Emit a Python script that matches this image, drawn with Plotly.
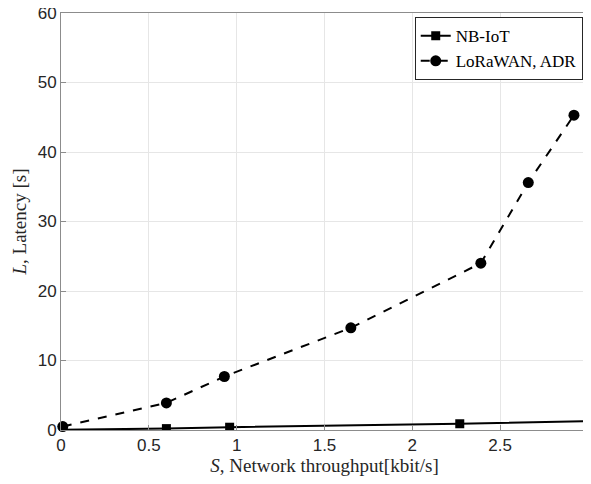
import plotly.graph_objects as go

nb_x = [0.01, 0.60, 0.96, 2.27, 3.25]
nb_y = [0.05, 0.2, 0.4, 0.9, 1.4]
lora_x = [0.01, 0.60, 0.93, 1.65, 2.39, 2.66, 2.92]
lora_y = [0.5, 3.9, 7.7, 14.7, 24.0, 35.6, 45.3]

x_ticks = [0, 0.5, 1, 1.5, 2, 2.5, 3]
x_tick_labels = ["0", "0.5", "1", "1.5", "2", "2.5", "3"]
y_ticks = [0, 10, 20, 30, 40, 50, 60]

serif = "Liberation Serif, DejaVu Serif, serif"
sans = "Liberation Sans, Arial, sans-serif"

fig = go.Figure()
fig.add_trace(go.Scatter(x=nb_x, y=nb_y, mode="lines+markers", name="NB-IoT",
                         line=dict(color="black", width=2),
                         marker=dict(symbol="square", size=9, color="black"),
                         cliponaxis=True))
fig.add_trace(go.Scatter(x=lora_x, y=lora_y, mode="lines+markers", name="LoRaWAN, ADR",
                         line=dict(color="black", width=2, dash="dash"),
                         marker=dict(symbol="circle", size=11, color="black"),
                         cliponaxis=False))

axis_common = dict(showgrid=True, gridcolor="#e6e6e6", gridwidth=1,
                   showline=True, linecolor="#8c8c8c", linewidth=1, mirror=True,
                   ticks="inside", ticklen=5, tickcolor="#8c8c8c", automargin=False,
                   ticklabeloverflow="allow",
                   zeroline=False, tickfont=dict(family=sans, size=17, color="#262626"))

fig.update_xaxes(range=[0, 3], tickvals=x_ticks, ticktext=x_tick_labels,
                 title=dict(text="<i>S</i>, Network throughput[kbit/s]",
                            font=dict(family=serif, size=19, color="#262626"), standoff=3),
                 **axis_common)
fig.update_yaxes(range=[0, 60], tickvals=y_ticks,
                 title=dict(text="<i>L</i>, Latency [s]",
                            font=dict(family=serif, size=19, color="#262626"), standoff=6),
                 **axis_common)

# page body has an 8px margin; compensate so the plot area lands where the reference has it
fig.update_layout(
    width=591, height=484,
    margin=dict(l=53, r=11, t=5, b=62),
    plot_bgcolor="white", paper_bgcolor="white",
    showlegend=True,
    legend=dict(x=0.99, y=0.99, xanchor="right", yanchor="top",
                bgcolor="white", bordercolor="#262626", borderwidth=1,
                font=dict(family=serif, size=17, color="black"),
                tracegroupgap=0, itemwidth=30),
)

fig.write_html("out.html")
